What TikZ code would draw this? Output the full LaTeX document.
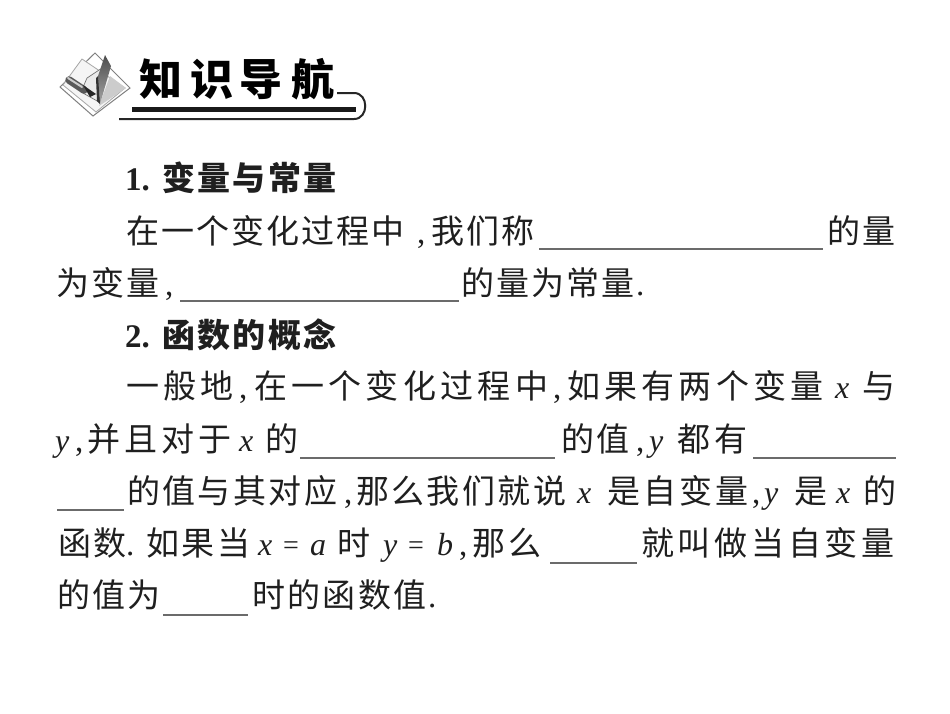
\documentclass[tikz,border=0pt]{standalone}
\usepackage{fontspec}
\setmainfont{Noto Sans CJK SC}
\newfontfamily\latn{Liberation Serif}
\tikzset{
  txt/.style={anchor=base west,inner sep=0pt,outer sep=0pt,text=black!88,font=\fontsize{33}{38}\selectfont},
  head/.style={txt,font=\fontsize{33}{38}\selectfont\bfseries},
  ltr/.style={txt,font=\fontsize{32}{38}\selectfont\latn\itshape},
  eqs/.style={txt,font=\fontsize{28}{32}\selectfont\latn},
  pnc/.style={txt,font=\fontsize{33}{38}\selectfont\latn},
  num/.style={txt,font=\fontsize{33}{38}\selectfont\latn\bfseries},
  blank/.style={draw=black!58,line width=1.5pt},
  title/.style={anchor=base west,inner sep=0pt,text=black,font=\fontsize{43}{50}\selectfont\bfseries},
  rulethick/.style={draw=black!90,line width=4.6pt},
  rulethin/.style={draw=black!85,line width=2pt}
}
\newcommand{\seg}[5]{\node[txt] (#1) at (#2,#3) {\addfontfeature{LetterSpace=#4}#5};}
\begin{document}
\begin{tikzpicture}[x=1pt,y=-1pt]
\useasboundingbox (0,0) rectangle (950,713);
\fill[white] (0,0) rectangle (950,713);
% icon
\draw[black!50,line width=1pt,fill=white] (95,53) -- (130,88) -- (93,116) -- (60,87) -- cycle;
\draw[black!35,line width=.8pt,fill=black!4] (82,59) -- (63,85) -- (96,112) -- (125,88) -- cycle;
\fill[black!20] (110,76) -- (126,88) -- (99,106) -- cycle;
\draw[black!55,line width=.7pt,fill=black!8] (87,78) -- (105,66) -- (99,102) -- (81,92) -- cycle;
\shade[top color=black!70,bottom color=black!35] (105,55) -- (111,66) -- (100,104) -- (98,76) -- cycle;
\fill[black!80] (98,76) -- (100,104) -- (97,101) -- (96,78) -- cycle;
\draw[black!65,line width=7.5pt,line cap=round] (69,80) -- (84,90);
\draw[black!20,line width=2pt,line cap=round] (68,78) -- (82,87);
\fill[black!85] (83,85) -- (90,97) -- (96,94) -- cycle;
% title
\node[title] (ttl1) at (139,95) {知};
\node[title] (ttl2) at (190,95) {识};
\node[title] (ttl3) at (239.5,95) {导};
\node[title] (ttl4) at (291,95) {航};
\draw[rulethick] (132,109.5) -- (356,109.5);
\draw[rulethin] (119,119) -- (354,119) .. controls (369,119) and (369,93) .. (354,93) -- (337,93);
% line 1
\node[num] (n1) at (125,190) {1.};
\node[head] (h1) at (162,190) {\addfontfeature{LetterSpace=7.5}变量与常量};
% line 2
\seg{a1}{126}{243}{6.2}{在一个变化过程中}
\node[pnc] (a1c) at (417,243) {,};
\seg{a1b}{431}{243}{6.2}{我们称}
\draw[blank] (539,249) -- (823,249);
\seg{a2}{827}{243}{6.2}{的量}
% line 3
\seg{b1}{56}{295}{6.2}{为变量}
\node[pnc] (b1c) at (165,295) {,};
\draw[blank] (180,301) -- (459,301);
\seg{b2}{461}{295}{6.2}{的量为常量}
\node[pnc] (b2p) at (636,295) {.};
% line 4
\node[num] (n2) at (125,347) {2.};
\node[head] (h2) at (162,347) {\addfontfeature{LetterSpace=7.5}函数的概念};
% line 5
\seg{c1}{126}{398}{12.5}{一般地}
\node[pnc] (c1c) at (239,398) {,};
\seg{c1b}{254}{398}{13}{在一个变化过程中}
\node[pnc] (c1d) at (553,398) {,};
\seg{c1e}{567}{398}{13}{如果有两个变量}
\node[ltr] (c2) at (835,398) {x};
\seg{c3}{862}{398}{0}{与}
% line 6
\node[ltr] (d1) at (55,451) {y};
\node[pnc] (d1c) at (75,451) {,};
\seg{d2}{87}{451}{13}{并且对于}
\node[ltr] (d3) at (239,451) {x};
\seg{d4}{265}{451}{0}{的}
\draw[blank] (300,458) -- (555,458);
\seg{d5}{561}{451}{9}{的值}
\node[pnc] (d5c) at (636,451) {,};
\node[ltr] (d6) at (649,451) {y};
\seg{d7}{677}{451}{13}{都有}
\draw[blank] (753,458) -- (896,458);
% line 7
\draw[blank] (57,510) -- (124,510);
\seg{e1}{127}{503}{7.5}{的值与其对应}
\node[pnc] (e1c) at (344,503) {,};
\seg{e1b}{356}{503}{7.5}{那么我们就说}
\node[ltr] (e2) at (577,503) {x};
\seg{e3}{607}{503}{10}{是自变量}
\node[pnc] (e3c) at (752,503) {,};
\node[ltr] (e4) at (764,503) {y};
\seg{e5}{794}{503}{0}{是}
\node[ltr] (e6) at (836,503) {x};
\seg{e7}{863}{503}{0}{的}
% line 8
\seg{f1}{58}{555}{6.2}{函数}
\node[pnc] (f1p) at (126,555) {.};
\seg{f2}{146}{555}{9}{如果当}
\node[ltr] (f3a) at (258,555) {x};
\node[eqs] (f3b) at (283,554) {=};
\node[ltr] (f3c) at (310,555) {a};
\seg{f4}{337}{555}{0}{时}
\node[ltr] (f5a) at (383,555) {y};
\node[eqs] (f5b) at (408,554) {=};
\node[ltr] (f5c) at (437,555) {b};
\node[pnc] (f5d) at (459,555) {,};
\seg{f6}{472}{555}{12}{那么}
\draw[blank] (550,563) -- (637,563);
\seg{f7}{641}{555}{11.5}{就叫做当自变量}
% line 9
\seg{g1}{57}{607}{7.5}{的值为}
\draw[blank] (163,615) -- (248,615);
\seg{g2}{252}{607}{7.5}{时的函数值}
\node[pnc] (g2p) at (428,607) {.};
\end{tikzpicture}
\end{document}
